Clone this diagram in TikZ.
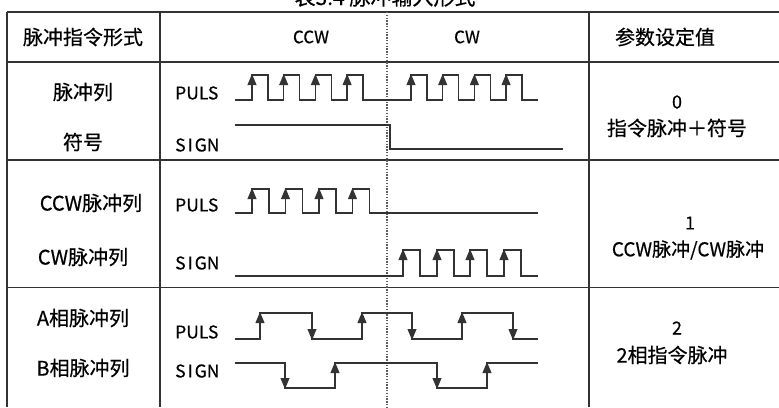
\documentclass[tikz,border=0pt]{standalone}
\usepackage{fontspec}
\setmainfont{Noto Sans CJK SC}[FakeBold=0.5]
\usetikzlibrary{arrows.meta}
\definecolor{linec}{HTML}{333333}
\tikzset{
  grid/.style={draw=linec, line width=1.6pt},
  divider/.style={draw=linec!80, line width=1.2pt, dash pattern=on 1.4pt off 1.4pt},
  wave/.style={draw=linec, line width=1.5pt, line join=miter},
  headfill/.style={fill=linec},
  zh/.style={inner sep=0pt, font=\fontsize{20}{24}\selectfont},
  hd/.style={inner sep=0pt, font=\fontsize{17}{20}\selectfont},
  sig/.style={inner sep=0pt, anchor=west, font=\fontsize{17.5}{20}\selectfont},
  num/.style={inner sep=0pt, font=\fontsize{18}{21}\selectfont},
}
% up arrowhead with tip at (x,y); down arrowhead with tip at (x,y)
\newcommand{\upHead}[2]{\fill[headfill] (#1,#2) -- ++(-4.6,11) -- ++(9.2,0) -- cycle;}
\newcommand{\dnHead}[2]{\fill[headfill] (#1,#2) -- ++(-4.6,-11) -- ++(9.2,0) -- cycle;}
\begin{document}
\begin{tikzpicture}[x=1pt,y=-1pt]
\useasboundingbox (0,0) rectangle (779,407);
% title (cut off at top)
\node[zh, font=\fontsize{21}{24}\selectfont, anchor=base] (title) at (385,5) {表3.4 脉冲输入形式};
% table grid
\draw[grid] (7,12) -- (779,12);
\draw[grid] (7,62) -- (779,62);
\draw[grid] (7,160) -- (779,160);
\draw[grid] (7,287.5) -- (779,287.5);
\draw[grid] (7,12) -- (7,407);
\draw[grid] (160,12) -- (160,407);
\draw[grid] (589,12) -- (589,407);
\draw[divider] (387,12) -- (387,407);
% header
\node[zh] (h1) at (83,37) {脉冲指令形式};
\node[hd] (h2) at (311,37) {CCW};
\node[hd] (h3) at (467,37) {CW};
\node[zh] (h4) at (665,37) {参数设定值};
% row 1
\node[zh] (l1a) at (83,92) {脉冲列};
\node[zh] (l1b) at (83,142) {符号};
\node[sig] (p1) at (175,93) {PULS};
\node[sig] (s1) at (175,145) {S\kern2pt I\kern2pt GN};
\node[num] (v1) at (677,102) {0};
\node[zh] (d1) at (677,128) {指令脉冲＋符号};
\draw[wave] (235,100) foreach \r in {252,283.7,315.4,347.1,411,442.7,474.4,506.1} { -- (\r,100) -- (\r,75) -- ({\r+16},75) -- ({\r+16},100) } -- (538,100);
\foreach \r in {252,283.7,315.4,347.1,411,442.7,474.4,506.1} {\upHead{\r}{74}}
\draw[wave] (235,125) -- (390,125) -- (390,149) -- (563,149);
% row 2
\node[zh] (l2a) at (91,203) {CCW脉冲列};
\node[zh] (l2b) at (83,257) {CW脉冲列};
\node[sig] (p2) at (175,205) {PULS};
\node[sig] (s2) at (175,263) {S\kern2pt I\kern2pt GN};
\node[num] (v2) at (690,223) {1};
\node[zh, font=\fontsize{19}{22}\selectfont] (d2) at (688,250) {CCW脉冲/CW脉冲};
\draw[wave] (235,213) foreach \r in {252,285.5,319,352.5} { -- (\r,213) -- (\r,189) -- ({\r+17},189) -- ({\r+17},213) } -- (538,213);
\foreach \r in {252,285.5,319,352.5} {\upHead{\r}{188}}
\draw[wave] (235,276) foreach \r in {403,437,470,504} { -- (\r,276) -- (\r,250) -- ({\r+17},250) -- ({\r+17},276) } -- (538,276);
\foreach \r in {403,437,470,504} {\upHead{\r}{249}}
% row 3
\node[zh] (l3a) at (83,318) {A相脉冲列};
\node[zh] (l3b) at (83,368) {B相脉冲列};
\node[sig] (p3) at (175,332) {PULS};
\node[sig] (s3) at (175,371) {S\kern2pt I\kern2pt GN};
\node[num] (v3) at (677,328) {2};
\node[zh] (d3) at (672,355) {2相指令脉冲};
\draw[wave] (235,339) -- (260,339) -- (260,313) -- (312,313) -- (312,339) -- (362,339) -- (362,313) -- (412,313) -- (412,339) -- (462,339) -- (462,313) -- (513,313) -- (513,339) -- (538,339);
\foreach \r in {260,362,462} {\upHead{\r}{312}}
\foreach \r in {312,412,513} {\dnHead{\r}{340}}
\draw[wave] (235,363) -- (285,363) -- (285,388) -- (335,388) -- (335,363) -- (437,363) -- (437,388) -- (487,388) -- (487,363) -- (538,363);
\foreach \r in {285,437} {\dnHead{\r}{389}}
\foreach \r in {335,487} {\upHead{\r}{362}}
\end{tikzpicture}
\end{document}
